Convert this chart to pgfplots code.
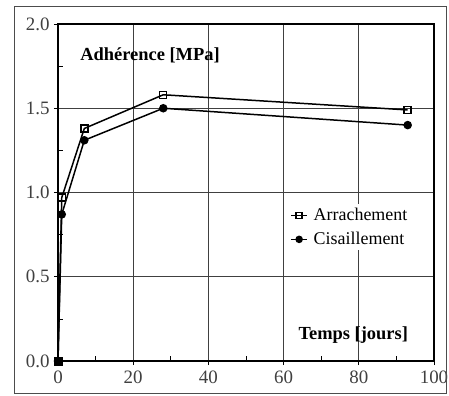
\documentclass[border=0pt]{standalone}
\usepackage{pgfplots}
\pgfplotsset{compat=1.18}
\usepackage{fontspec}
\setmainfont{Liberation Serif}
\begin{document}
\begin{tikzpicture}
\begin{axis}[
  scale only axis, width=376bp, height=337bp,
  xmin=0, xmax=100, ymin=0, ymax=2,
  xtick={0,20,40,60,80,100},
  ytick={0,0.5,1,1.5,2},
  minor xtick={10,30,50,70,90},
  minor ytick={0.25,0.75,1.25,1.75},
  xtick pos=bottom, ytick pos=left,
  yticklabel style={/pgf/number format/fixed,/pgf/number format/precision=1,/pgf/number format/fixed zerofill, xshift=-1bp},
  /pgf/number format/assume math mode=true,
  ticklabel style={font=\fontsize{19}{21}\selectfont, text=black!75},
  xticklabel style={yshift=-2bp},
  tick align=outside, major tick length=4bp, minor tick length=-5bp,
  tick style={black, line width=0.7pt},
  grid=major, grid style={black!75, line width=0.7pt},
  axis line style={line width=1.1pt},
  legend style={draw=none, fill=white, at={(rel axis cs:0.61,0.465)}, anchor=north west, font=\fontsize{18}{20}\selectfont, row sep=6bp, nodes={inner xsep=6bp}},
  legend image code/.code={\draw[#1, line width=1.2pt] (0bp,0bp) -- (16bp,0bp); \draw[#1, mark size=3pt] plot coordinates {(8bp,0bp)};},
  legend cell align=left,
]
\coordinate (ll) at (rel axis cs:0,0);
\coordinate (ur) at (rel axis cs:1,1);
\addplot[black, line width=1.5pt, mark=square, mark size=3.5pt, mark options={line width=1.4pt, fill=white}] coordinates {(0,0) (1,0.97) (7,1.38) (28,1.58) (93,1.49)};
\addlegendentry{Arrachement}
\addplot[black, line width=1.5pt, mark=*, mark size=3.5pt] coordinates {(0,0) (1,0.87) (7,1.31) (28,1.50) (93,1.40)};
\addlegendentry{Cisaillement}
\addplot[only marks, black, mark=square*, mark size=4pt, forget plot] coordinates {(0,0)};
\node[anchor=west, font=\bfseries\fontsize{18.5}{20}\selectfont] at (rel axis cs:0.05,0.908) {Adhérence [MPa]};
\node[anchor=east, font=\bfseries\fontsize{18.5}{20}\selectfont] at (rel axis cs:0.94,0.077) {Temps [jours]};
\end{axis}
\draw[black!70, line width=0.7pt] ([xshift=-44bp,yshift=-32bp]ll) rectangle ([xshift=12bp,yshift=18bp]ur);
\pgfresetboundingbox
\path[use as bounding box] ([xshift=-58bp,yshift=-35bp]ll) rectangle ([xshift=15bp,yshift=24bp]ur);
\end{tikzpicture}
\end{document}
